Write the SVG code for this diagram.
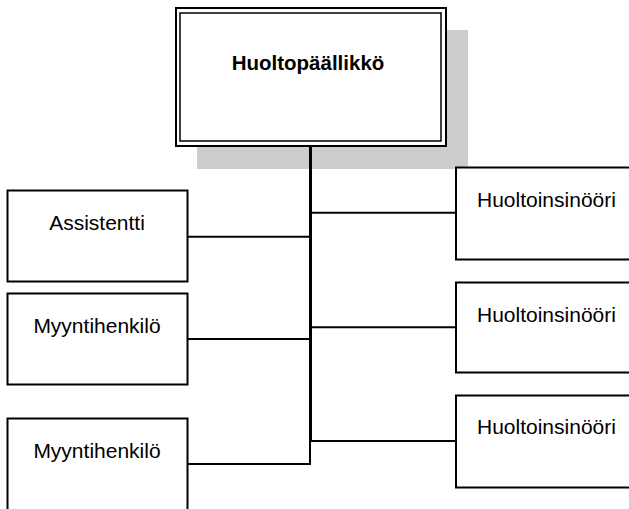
<svg xmlns="http://www.w3.org/2000/svg" width="629" height="509" viewBox="0 0 629 509">
  <style>
    .box { fill: #ffffff; stroke: #000000; stroke-width: 2; }
    .lbl { font-family: "Liberation Sans", Arial, sans-serif; font-size: 21px; fill: #000000; }
    .head { font-family: "Liberation Sans", Arial, sans-serif; font-size: 20.5px; font-weight: bold; fill: #000000; }
    .wire { fill: none; stroke: #000000; stroke-width: 2; }
  </style>
  <rect width="629" height="509" fill="#ffffff"/>

  <!-- manager box with drop shadow and double frame -->
  <g id="huoltopaallikko">
    <rect x="197" y="30" width="271" height="139" fill="#cccccc"/>
    <rect x="176" y="8" width="270" height="138" fill="#ffffff" stroke="#000000" stroke-width="2"/>
    <rect x="180" y="13" width="261" height="128" fill="none" stroke="#000000" stroke-width="1.5"/>
    <text class="head" x="308" y="70" text-anchor="middle">Huoltopäällikkö</text>
  </g>

  <!-- connectors -->
  <g id="connectors">
    <line x1="310.5" y1="146" x2="310.5" y2="441" stroke="#000" stroke-width="3"/>
    <path class="wire" d="M187,236.7 H310"/>
    <path class="wire" d="M187,339 H310"/>
    <path class="wire" d="M187,464 H310 V440"/>
    <path class="wire" d="M311,212.7 H456"/>
    <path class="wire" d="M311,327.3 H456"/>
    <path class="wire" d="M311,441 H456"/>
  </g>

  <!-- left column -->
  <g id="assistentti">
    <rect class="box" x="7.5" y="190.5" width="180" height="91"/>
    <text class="lbl" x="97" y="230" text-anchor="middle">Assistentti</text>
  </g>
  <g id="myyntihenkilo-1">
    <rect class="box" x="7.5" y="293.5" width="180" height="91"/>
    <text class="lbl" x="97" y="333" text-anchor="middle">Myyntihenkilö</text>
  </g>
  <g id="myyntihenkilo-2">
    <rect class="box" x="7.5" y="418.5" width="180" height="100"/>
    <text class="lbl" x="97" y="458" text-anchor="middle">Myyntihenkilö</text>
  </g>

  <!-- right column -->
  <g id="huoltoinsinoori-1">
    <rect class="box" x="456" y="167.5" width="190" height="92"/>
    <text class="lbl" x="477" y="207">Huoltoinsinööri</text>
  </g>
  <g id="huoltoinsinoori-2">
    <rect class="box" x="456" y="282.5" width="190" height="90"/>
    <text class="lbl" x="477" y="322">Huoltoinsinööri</text>
  </g>
  <g id="huoltoinsinoori-3">
    <rect class="box" x="456" y="395.5" width="190" height="92"/>
    <text class="lbl" x="477" y="434">Huoltoinsinööri</text>
  </g>
</svg>
